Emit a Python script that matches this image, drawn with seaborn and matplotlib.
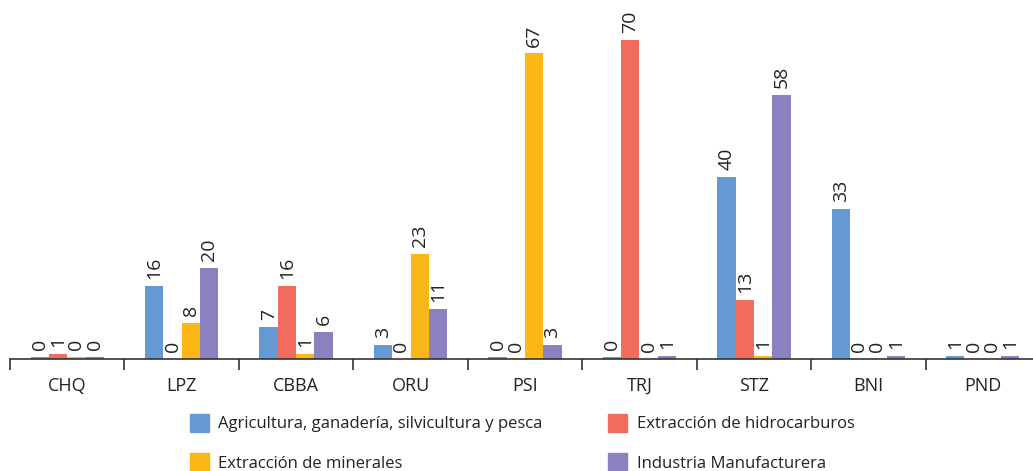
import pandas as pd
import matplotlib.pyplot as plt
import matplotlib.patches as mpatches
import seaborn as sns

# Data
departamentos = ['CHQ', 'LPZ', 'CBBA', 'ORU', 'PSI', 'TRJ', 'STZ', 'BNI', 'PND']
agricultura = [0.45, 16, 7, 3, 0.45, 0.4, 40, 33, 0.6]
hidrocarburos = [1, 0, 16, 0, 0, 70, 13, 0, 0]
minerales = [0.4, 8, 1, 23, 67, 0, 0.6, 0, 0]
manufactura = [0.4, 20, 6, 11, 3, 0.6, 58, 0.6, 0.6]

sectores = ['Agricultura, ganadería, silvicultura y pesca',
            'Extracción de hidrocarburos',
            'Extracción de minerales',
            'Industria Manufacturera']
colores = ['#6699D3', '#F26B5F', '#FBB716', '#8A82BE']

df = pd.DataFrame({
    'Depto': departamentos * 4,
    'Sector': [s for s in sectores for _ in departamentos],
    'Valor': agricultura + hidrocarburos + minerales + manufactura,
})

sns.set_style('white')
plt.rcParams['font.family'] = ['Open Sans', 'DejaVu Sans']

fig = plt.figure(figsize=(10.33, 4.71), dpi=100)
ax = fig.add_axes([10 / 1033, 112 / 471, 1030 / 1033, 342 / 471])

sns.barplot(data=df, x='Depto', y='Valor', hue='Sector', hue_order=sectores,
            palette=colores, width=0.64, saturation=1, legend=False, ax=ax,
            linewidth=0)

for cont in ax.containers:
    ax.bar_label(cont, fmt='{:.0f}', rotation=90, padding=5, fontsize=14, color='#222222')

ax.set_ylim(0, 75)
ax.set_xlim(-0.5, 8.5)
ax.set_xlabel('')
ax.set_ylabel('')
ax.set_yticks([])
for s in ['top', 'right', 'left']:
    ax.spines[s].set_visible(False)
ax.spines['bottom'].set_color('#333333')
ax.spines['bottom'].set_linewidth(1.2)

ax.set_xticks(range(len(departamentos)))
ax.set_xticklabels(departamentos, fontsize=13, color='#222222')
ax.set_xticks([i - 0.5 for i in range(len(departamentos))], minor=True)
ax.tick_params(axis='x', which='major', length=0, pad=13)
ax.tick_params(axis='x', which='minor', length=8, width=1.2, color='#333333', direction='out', bottom=True)

# legend: row 1 agricultura / hidrocarburos, row 2 minerales / manufactura
orden = [0, 2, 1, 3]
handles = [mpatches.Patch(color=colores[i], label=sectores[i]) for i in orden]
fig.legend(handles=handles, ncol=2, loc='upper left', bbox_to_anchor=(190 / 1033, 1 - 414 / 471),
           frameon=False, fontsize=12, handlelength=1.14, handleheight=1.26,
           handletextpad=0.55, labelspacing=1.25, columnspacing=3.95, labelcolor='#222222',
           borderpad=0, borderaxespad=0)

plt.savefig('out.png', dpi=100)
